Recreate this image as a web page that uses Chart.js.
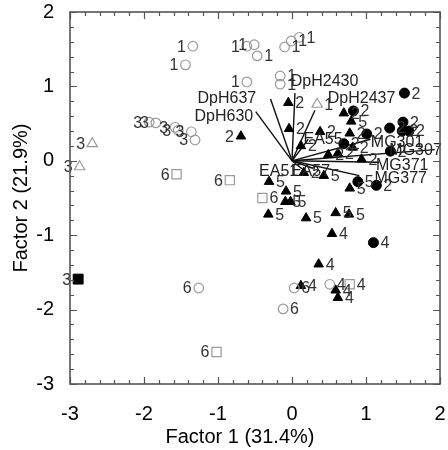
<!DOCTYPE html>
<html><head><meta charset="utf-8">
<script src="https://cdn.jsdelivr.net/npm/chart.js@4/dist/chart.umd.min.js"></script>
<style>html,body{margin:0;padding:0;background:#fff}canvas{display:block}</style>
</head><body>
<canvas id="c" width="448" height="450"></canvas>
<script>
// Scores (Factor 1, Factor 2) with group labels, by marker type
const grayCircleX = [-1.34,-1.44,-0.61,-0.51,-0.47,-0.10,-0.01,0.10,-0.61,-0.16,-0.16,
  -1.93,-1.84,-1.58,-1.54,-1.36,-1.31, -1.26,-0.12,0.03, 0.51];
const grayCircleY = [1.54,1.29,1.54,1.56,1.41,1.53,1.61,1.66,1.06,1.14,1.03,
  0.52,0.51,0.45,0.41,0.39,0.28, -1.71,-1.99,-1.71, -1.66];
const grayCircleLab = ["1","1","1","1","1","1","1","1","1","1","1",
  "3","3","3","3","3","3","6","6","6","4"];

const grayTriX = [-2.70,-2.87,0.34];
const grayTriY = [0.23,-0.08,0.76];
const grayTriLab = ["3","3","1"];

const graySqX = [-1.56,-0.84,-0.40,-1.02,0.78];
const graySqY = [-0.18,-0.26,-0.50,-2.57,-1.66];
const graySqLab = ["6","6","6","6","4"];

const blackSqX = [-2.89];
const blackSqY = [-1.59];
const blackSqLab = ["3"];

const blackTriX = [-0.69,-0.05,-0.04,0.70,0.38,0.12,0.82,0.49,0.62,0.94,0.16,0.78,
  0.80,0.43,-0.31,0.78,-0.08,-0.09,-0.02,-0.32,0.19,0.59,0.77,
  0.54,0.36,0.12,0.59,0.62];
const blackTriY = [0.33,0.78,0.43,0.64,0.39,0.20,0.18,0.08,0.10,0.02,-0.16,0.37,
  0.53,-0.20,-0.28,-0.37,-0.41,-0.55,-0.55,-0.72,-0.77,-0.70,-0.72,
  -0.98,-1.39,-1.68,-1.74,-1.84];
const blackTriLab = ["2","2","2","2","2","2","2","2","2","2","2","2",
  "5","5","5","5","5","5","5","5","5","5","5",
  "4","4","4","4","4"];

const blackCircX = [1.52,0.83,1.32,1.50,1.49,1.58,1.01,0.70,1.33,1.14,0.89,1.10];
const blackCircY = [0.91,0.67,0.44,0.52,0.40,0.40,0.36,0.23,0.13,-0.33,-0.28,-1.10];
const blackCircLab = ["2","2","2","2","2","2","2","2","2","2","5","4"];

// Variable loadings (vectors from origin)
const loadNames = ["DpH637","DpH630","DpH2430","DpH2437","EA55","MG301","MG307","MG371","MG377","EA51","EA57"];
const loadX = [-0.29,-0.49,0.04,0.31,0.22,1.06,1.93,1.18,0.91,0.15,0.28];
const loadY = [0.83,0.66,0.91,0.68,0.29,0.29,0.15,-0.02,-0.20,-0.12,-0.10];
const loadLabelX = [-0.88,-0.92,0.44,0.94,0.42,1.42,1.67,1.49,1.47,-0.18,0.25];
const loadLabelY = [0.84,0.60,1.06,0.83,0.28,0.25,0.14,-0.07,-0.24,-0.15,-0.15];

const tickVals = [-3,-2,-1,0,1,2];
const xTitle = "Factor 1 (31.4%)";
const yTitle = "Factor 2 (21.9%)";

const FONT = "'Liberation Sans', Arial, sans-serif";
const GRAY = "#9a9a9a";

function pts(xs, ys, labs){ return xs.map((x,i)=>({x:x,y:ys[i],lab:labs[i]})); }

const datasets = [];
loadNames.forEach((n,i)=>{
  datasets.push({type:'line', data:[{x:0,y:0},{x:loadX[i],y:loadY[i]}], borderColor:'#111',
    borderWidth:1.4, pointRadius:0, fill:false, showLine:true, isVector:true, order:2});
});
datasets.push({data:pts(grayCircleX,grayCircleY,grayCircleLab), pointStyle:'circle', pointRadius:4.8,
  borderColor:GRAY, backgroundColor:'rgba(255,255,255,0)', borderWidth:1.2, withLabels:true, order:1});
datasets.push({data:pts(grayTriX,grayTriY,grayTriLab), pointStyle:'triangle', pointRadius:6,
  borderColor:GRAY, backgroundColor:'rgba(255,255,255,0)', borderWidth:1.2, withLabels:true, order:1});
datasets.push({data:pts(graySqX,graySqY,graySqLab), pointStyle:'rect', pointRadius:6.5,
  borderColor:GRAY, backgroundColor:'rgba(255,255,255,0)', borderWidth:1.2, withLabels:true, order:1});
datasets.push({data:pts(blackSqX,blackSqY,blackSqLab), pointStyle:'rect', pointRadius:7,
  borderColor:'#000', backgroundColor:'#000', borderWidth:1, withLabels:true, order:1});
datasets.push({data:pts(blackTriX,blackTriY,blackTriLab), pointStyle:'triangle', pointRadius:5.5,
  borderColor:'#000', backgroundColor:'#000', borderWidth:1, withLabels:true, order:1});
datasets.push({data:pts(blackCircX,blackCircY,blackCircLab), pointStyle:'circle', pointRadius:5,
  borderColor:'#000', backgroundColor:'#000', borderWidth:1, withLabels:true, order:1});

const decor = {
  id:'decor',
  afterDatasetsDraw(chart){
    const ctx = chart.ctx, xs = chart.scales.x, ys = chart.scales.y, ca = chart.chartArea;
    ctx.save();
    // point labels
    ctx.font = "16px " + FONT; ctx.fillStyle = "#333"; ctx.textBaseline = "middle";
    chart.data.datasets.forEach(ds=>{
      if(!ds.withLabels) return;
      ds.data.forEach(p=>{
        const px = xs.getPixelForValue(p.x), py = ys.getPixelForValue(p.y);
        if(p.x < -0.5){ ctx.textAlign = "right"; ctx.fillText(p.lab, px-7, py+1); }
        else { ctx.textAlign = "left"; ctx.fillText(p.lab, px+7, py+1); }
      });
    });
    // loading labels
    ctx.fillStyle = "#222"; ctx.textAlign = "center";
    loadNames.forEach((n,i)=>{
      ctx.fillText(n, xs.getPixelForValue(loadLabelX[i]), ys.getPixelForValue(loadLabelY[i]));
    });
    // frame
    ctx.strokeStyle = "#555"; ctx.lineWidth = 1.6;
    ctx.strokeRect(ca.left, ca.top, ca.right-ca.left, ca.bottom-ca.top);
    ctx.lineWidth = 1.2;
    ctx.beginPath();
    for(let k=0;k<=25;k++){
      const v = -3 + k*0.2; const major = (k%5===0); const L = major?7:4;
      const px = Math.round(xs.getPixelForValue(v))+0.5;
      ctx.moveTo(px, ca.bottom); ctx.lineTo(px, ca.bottom-L);
      ctx.moveTo(px, ca.top); ctx.lineTo(px, ca.top+L);
      const py = Math.round(ys.getPixelForValue(v))+0.5;
      ctx.moveTo(ca.left, py); ctx.lineTo(ca.left+L, py);
      ctx.moveTo(ca.right, py); ctx.lineTo(ca.right-L, py);
    }
    ctx.stroke();
    // axis titles
    ctx.fillStyle = "#000"; ctx.font = "20px " + FONT; ctx.textAlign = "center"; ctx.textBaseline = "middle";
    ctx.fillText(xTitle, 240, 437);
    ctx.translate(21, (ca.top+ca.bottom)/2); ctx.rotate(-Math.PI/2);
    ctx.fillText(yTitle, 0, 0);
    ctx.restore();
  }
};

new Chart(document.getElementById('c'), {
  type:'scatter',
  data:{datasets:datasets},
  options:{
    responsive:false, animation:false,
    layout:{padding:{top:12,right:5,left:0,bottom:0}},
    plugins:{legend:{display:false}, tooltip:{enabled:false}},
    scales:{
      x:{type:'linear', min:-3, max:2,
        afterBuildTicks(s){ s.ticks = tickVals.map(v=>({value:v})); },
        afterFit(s){ s.height = 66; s.paddingLeft = 0; s.paddingRight = 0; },
        grid:{display:false}, border:{display:false},
        ticks:{font:{size:20, family:FONT}, color:'#000', padding:10, maxRotation:0}},
      y:{type:'linear', min:-3, max:2,
        afterBuildTicks(s){ s.ticks = tickVals.map(v=>({value:v})); },
        afterFit(s){ s.width = 70; s.paddingTop = 0; s.paddingBottom = 0; },
        grid:{display:false}, border:{display:false},
        ticks:{font:{size:20, family:FONT}, color:'#000', padding:8}}
    }
  },
  plugins:[decor]
});
</script>
</body></html>
